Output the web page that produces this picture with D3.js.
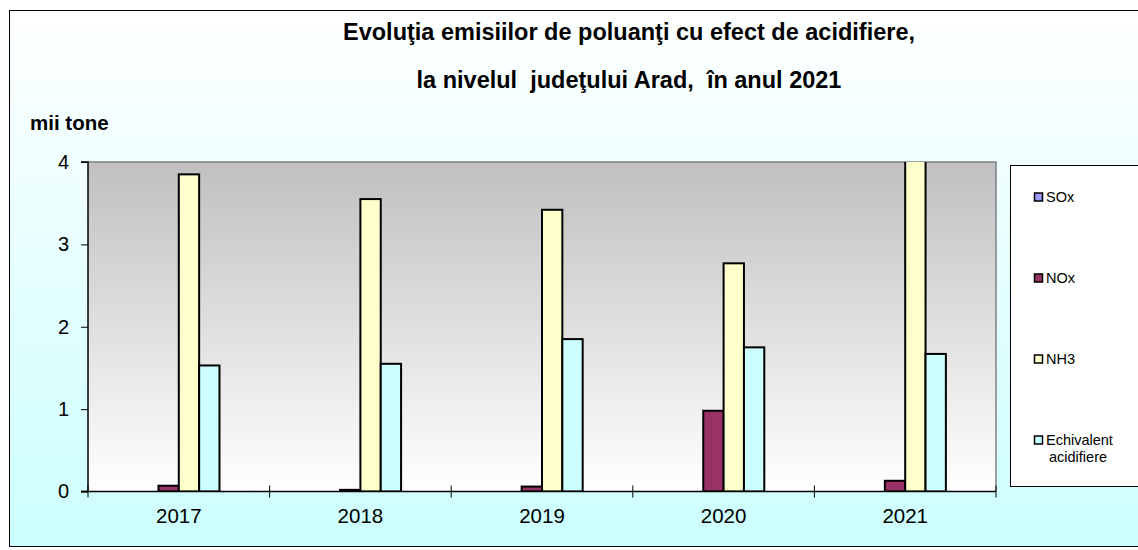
<!DOCTYPE html>
<html><head><meta charset="utf-8">
<script src="https://cdn.jsdelivr.net/npm/d3@7"></script>
<style>body{margin:0;overflow:hidden;background:#fff}svg{display:block;font-family:Arial,"Liberation Sans",sans-serif}text{white-space:pre}</style>
</head><body><svg id="c" width="1138" height="550"></svg>
<script>
const years = ["2017","2018","2019","2020","2021"];
const seriesNames = ["SOx","NOx","NH3","Echivalent acidifiere"];
const SOx  = [0, 0, 0, 0, 0];
const NOx  = [0.07, 0.02, 0.06, 0.98, 0.13];
const NH3  = [3.85, 3.55, 3.42, 2.77, 4.1];
const Echiv = [1.53, 1.55, 1.85, 1.75, 1.67];
const yTicks = [0,1,2,3,4];
const colors = ["#9999ff","#993366","#ffffcc","#ccffff"];
const titleLines = ["Evoluţia emisiilor de poluanţi cu efect de acidifiere,","la nivelul  judeţului Arad,  în anul 2021"];

const values = [SOx, NOx, NH3, Echiv];
const svg = d3.select("#c");
const defs = svg.append("defs");
const g1 = defs.append("linearGradient").attr("id","bgOuter").attr("x1",0).attr("y1",0).attr("x2",0).attr("y2",1);
g1.append("stop").attr("offset","0%").attr("stop-color","#ffffff");
g1.append("stop").attr("offset","100%").attr("stop-color","#ccffff");
const g2 = defs.append("linearGradient").attr("id","bgPlot").attr("x1",0).attr("y1",0).attr("x2",0).attr("y2",1);
g2.append("stop").attr("offset","0%").attr("stop-color","#c0c0c0");
g2.append("stop").attr("offset","100%").attr("stop-color","#ffffff");

const L=88, R=996, T=162, B=491.5;
defs.append("clipPath").attr("id","clip").append("rect").attr("x",L).attr("y",T).attr("width",R-L).attr("height",B-T);

svg.append("rect").attr("x",9.5).attr("y",10.5).attr("width",1150).attr("height",536)
  .attr("fill","url(#bgOuter)").attr("stroke","#000").attr("stroke-width",1);

svg.selectAll("text.title").data(titleLines).join("text").attr("class","title")
  .attr("x",629).attr("y",(d,i)=>39.5+i*48).attr("text-anchor","middle")
  .attr("font-size",23.5).attr("font-weight","bold").text(d=>d);

svg.append("text").attr("x",30).attr("y",130).attr("font-size",20.5).attr("font-weight","bold").text("mii tone");

const x = d3.scaleBand().domain(years).range([L,R]).padding(0);
const y = d3.scaleLinear().domain([0,4]).range([B,T]);
const bw = x.bandwidth()*0.112;

svg.append("rect").attr("x",L).attr("y",T).attr("width",R-L).attr("height",B-T).attr("fill","url(#bgPlot)");
svg.append("path").attr("d",`M${L},${T}H${R}V${B}`).attr("fill","none").attr("stroke","#808080").attr("stroke-width",1.5);

const bars = svg.append("g").attr("clip-path","url(#clip)");
values.forEach((vals,si)=>{
  bars.selectAll(null).data(years).join("rect")
    .attr("x",d=>x(d)+x.bandwidth()/2+(si-2)*bw)
    .attr("y",(d,i)=>y(vals[i]))
    .attr("width",bw)
    .attr("height",(d,i)=>Math.max(0,y(0)-y(vals[i])))
    .attr("fill",colors[si]).attr("stroke","#000").attr("stroke-width",2)
    .attr("display",(d,i)=>vals[i]>0?null:"none");
});

const yAxis = svg.append("g").attr("transform",`translate(${L},0)`)
  .call(d3.axisLeft(y).tickValues(yTicks).tickSize(7).tickPadding(12).tickFormat(d3.format("d")));
yAxis.select(".domain").attr("stroke","#000").attr("stroke-width",1.5).attr("d",`M-7,${T}H0V${B}H-7`);
yAxis.selectAll("text").attr("font-size",20).attr("font-family","Arial,'Liberation Sans',sans-serif").attr("fill","#000");
yAxis.selectAll("line").attr("stroke","#000");

const xb = svg.append("g").attr("transform",`translate(0,${B})`);
xb.append("line").attr("x1",L-7).attr("x2",R).attr("stroke","#000").attr("stroke-width",1.5);
const bounds = years.map(d=>x(d)).concat([R]);
xb.selectAll("line.t").data(bounds).join("line").attr("class","t")
  .attr("x1",d=>d).attr("x2",d=>d).attr("y1",-6).attr("y2",6).attr("stroke","#000");
xb.selectAll("text").data(years).join("text")
  .attr("x",d=>x(d)+x.bandwidth()/2).attr("y",31.5).attr("text-anchor","middle")
  .attr("font-size",20.5).text(d=>d);

const lg = svg.append("g");
lg.append("rect").attr("x",1010.5).attr("y",165.5).attr("width",140).attr("height",321).attr("fill","#fff").attr("stroke","#000");
const ly = [197, 278, 359, 440];
seriesNames.forEach((n,i)=>{
  lg.append("rect").attr("x",1034.5).attr("y",ly[i]-4).attr("width",8).attr("height",8)
    .attr("fill",colors[i]).attr("stroke","#000").attr("stroke-width",1.5);
  const words = n==="Echivalent acidifiere" ? ["Echivalent","acidifiere"] : [n];
  words.forEach((w,j)=>{
    lg.append("text").attr("x",j===0?1046:1049).attr("y",ly[i]+5+j*17).attr("font-size",14.5).text(w);
  });
});
</script></body></html>
